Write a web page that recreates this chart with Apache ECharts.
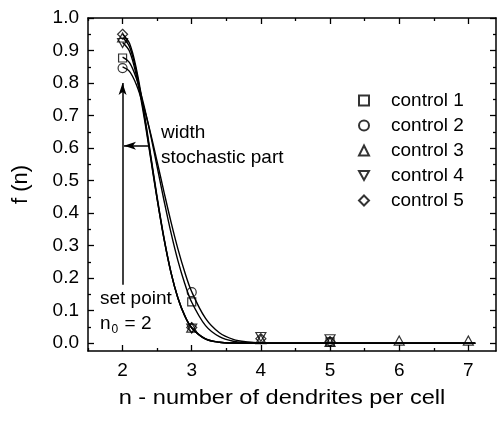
<!DOCTYPE html>
<html>
<head>
<meta charset="utf-8">
<script src="https://cdn.jsdelivr.net/npm/echarts@6/dist/echarts.min.js"></script>
<style>
html,body{margin:0;padding:0;background:#fff;}
#chart{width:498px;height:421px;}
</style>
</head>
<body>
<div id="chart"></div>
<script>
// ---- data ----
var seriesNames = ['control 1', 'control 2', 'control 3', 'control 4', 'control 5'];
var nValues = [2, 3, 4, 5, 6, 7];
var control1 = [0.877, 0.127, null, 0.004, null, null];
var control2 = [0.846, 0.157, null, null, null, null];
var control3 = [0.940, 0.048, 0.012, 0.004, 0.008, 0.008];
var control4 = [0.923, 0.045, 0.019, 0.012, null, null];
var control5 = [0.950, 0.048, 0.014, 0.005, null, null];

// fitted curves
var fitN = [2, 2.1, 2.2, 2.3, 2.4, 2.5, 2.6, 2.7, 2.8, 2.9, 3.0, 3.2, 3.4, 3.6, 3.8, 4.0, 4.5, 5, 6, 7.1];
var fit1 = [0.880, 0.863, 0.814, 0.739, 0.645, 0.542, 0.438, 0.340, 0.254, 0.183, 0.126, 0.054, 0.020, 0.006, 0.002, 0.0004, 0, 0, 0, 0];
var fit2 = [0.850, 0.836, 0.795, 0.731, 0.650, 0.558, 0.464, 0.373, 0.290, 0.218, 0.158, 0.076, 0.032, 0.012, 0.004, 0.001, 0, 0, 0, 0];
var fit3 = [0.940, 0.912, 0.834, 0.718, 0.582, 0.444, 0.319, 0.216, 0.138, 0.083, 0.047, 0.0125, 0.003, 0.0004, 0, 0, 0, 0, 0, 0];
var fit4 = [0.925, 0.898, 0.822, 0.709, 0.577, 0.442, 0.320, 0.218, 0.140, 0.085, 0.048, 0.013, 0.003, 0.0005, 0, 0, 0, 0, 0, 0];
var fit5 = [0.950, 0.922, 0.843, 0.725, 0.588, 0.449, 0.323, 0.218, 0.139, 0.084, 0.047, 0.013, 0.003, 0.0004, 0, 0, 0, 0, 0, 0];

var xMajorTicks = [2, 3, 4, 5, 6, 7];
var xMinorTicks = [1.5, 2.5, 3.5, 4.5, 5.5, 6.5];
var yMajorTicks = [0.0, 0.1, 0.2, 0.3, 0.4, 0.5, 0.6, 0.7, 0.8, 0.9, 1.0];
var yMinorTicks = [0.05, 0.15, 0.25, 0.35, 0.45, 0.55, 0.65, 0.75, 0.85, 0.95];

var xTitle = 'n - number of dendrites per cell';
var yTitle = 'f (n)';
// ---------------------------------------

var FONT = '"Liberation Sans", Arial, sans-serif';
var symbols = ['rect', 'circle', 'triangle', 'path://M0,0L10,0L5,9Z', 'diamond'];
var symbolSizes = [[8, 8], [9, 9], [10, 9], [10, 9], [10, 10]];
var controls = [control1, control2, control3, control4, control5];
var fits = [fit1, fit2, fit3, fit4, fit5];

function pairs(xs, ys) {
  var out = [];
  for (var i = 0; i < xs.length; i++) {
    if (ys[i] !== null && ys[i] !== undefined) out.push([xs[i], ys[i]]);
  }
  return out;
}

var XMIN = 1.5, XMAX = 7.4, YMIN = -0.024, YMAX = 1.0;

function xAx(pos, ticks, len, showLabel, showLine) {
  return {
    type: 'value', position: pos, min: XMIN, max: XMAX,
    axisLine: {show: showLine, onZero: false, lineStyle: {color: '#000', width: 1.5}},
    axisTick: {show: true, inside: true, length: len, customValues: ticks, lineStyle: {color: '#000', width: 1.3}},
    axisLabel: {show: showLabel, customValues: ticks, margin: 10, color: '#000', fontFamily: FONT, fontSize: 19},
    splitLine: {show: false}
  };
}
function yAx(pos, ticks, len, showLabel, showLine) {
  return {
    type: 'value', position: pos, min: YMIN, max: YMAX,
    axisLine: {show: showLine, onZero: false, lineStyle: {color: '#000', width: 1.5}},
    axisTick: {show: true, inside: true, length: len, customValues: ticks, lineStyle: {color: '#000', width: 1.3}},
    axisLabel: {show: showLabel, customValues: ticks, margin: 9, color: '#000', fontFamily: FONT, fontSize: 19,
      formatter: function (v) { return v.toFixed(1); }},
    splitLine: {show: false}
  };
}

var series = [];
for (var i = 0; i < 5; i++) {
  series.push({
    name: seriesNames[i], type: 'scatter', xAxisIndex: 0, yAxisIndex: 0,
    symbol: symbols[i], symbolSize: symbolSizes[i],
    itemStyle: {color: 'rgba(255,255,255,0)', borderColor: '#000', borderWidth: 1.2},
    data: pairs(nValues, controls[i]), z: 3, silent: true
  });
}
for (var j = 0; j < 5; j++) {
  series.push({
    name: 'fit ' + (j + 1), type: 'line', xAxisIndex: 0, yAxisIndex: 0,
    showSymbol: false, smooth: 0.35,
    lineStyle: {color: '#000', width: 1.4}, data: pairs(fitN, fits[j]), z: 2, silent: true
  });
}
// annotation arrows
series.push({
  name: 'annotations', type: 'line', xAxisIndex: 0, yAxisIndex: 0, data: [], silent: true,
  markLine: {
    silent: true, symbol: ['none', 'arrow'], symbolSize: [6, 12],
    label: {show: false},
    lineStyle: {color: '#000', width: 1.5, type: 'solid'},
    emphasis: {disabled: true},
    data: [
      [{coord: [2, 0.18]}, {coord: [2, 0.80]}],
      [{coord: [2.38, 0.607]}, {coord: [2.02, 0.607]}]
    ]
  }
});

var option = {
  animation: false,
  backgroundColor: '#fff',
  textStyle: {fontFamily: FONT},
  grid: {left: 88, right: 2, top: 18, bottom: 70},
  xAxis: [
    xAx('bottom', xMajorTicks, 6, true, true),
    xAx('bottom', xMinorTicks, 3, false, false),
    xAx('top', xMajorTicks, 6, false, true),
    xAx('top', xMinorTicks, 3, false, false)
  ],
  yAxis: [
    Object.assign(yAx('left', yMajorTicks, 6, true, true), {
      name: yTitle, nameLocation: 'middle', nameGap: 56,
      nameTextStyle: {color: '#000', fontFamily: FONT, fontSize: 22}
    }),
    yAx('left', yMinorTicks, 3, false, false),
    yAx('right', yMajorTicks, 6, false, true),
    yAx('right', yMinorTicks, 3, false, false)
  ],
  legend: {
    data: seriesNames, orient: 'vertical', left: 353, top: 86,
    itemWidth: 10, itemHeight: 10, itemGap: 6, symbolKeepAspect: true,
    textStyle: {color: '#000', fontFamily: FONT, fontSize: 19, lineHeight: 18, padding: [0, 0, 0, 17]},
    selectedMode: false
  },
  graphic: [
    {type: 'text', x: 282, y: 398, scaleX: 1.18, silent: true,
      style: {text: xTitle, font: '20px ' + FONT, fill: '#000', align: 'center', verticalAlign: 'middle'}},
    {type: 'text', x: 161, y: 133, silent: true,
      style: {text: 'width', font: '19px ' + FONT, fill: '#000', align: 'left', verticalAlign: 'middle'}},
    {type: 'text', x: 161, y: 158, silent: true,
      style: {text: 'stochastic part', font: '19px ' + FONT, fill: '#000', align: 'left', verticalAlign: 'middle'}},
    {type: 'text', x: 100, y: 299, silent: true,
      style: {text: 'set point', font: '19px ' + FONT, fill: '#000', align: 'left', verticalAlign: 'middle'}},
    {type: 'text', x: 100, y: 324, silent: true,
      style: {
        text: '{n|n}{s|0}{n| = 2}', align: 'left', verticalAlign: 'middle',
        rich: {
          n: {fontFamily: FONT, fontSize: 19, fill: '#000', color: '#000'},
          s: {fontFamily: FONT, fontSize: 12, fill: '#000', color: '#000', padding: [12, 1, 0, 1]}
        }
      }}
  ],
  series: series
};

var chart = echarts.init(document.getElementById('chart'), null, {renderer: 'canvas'});
chart.setOption(option);
</script>
</body>
</html>
